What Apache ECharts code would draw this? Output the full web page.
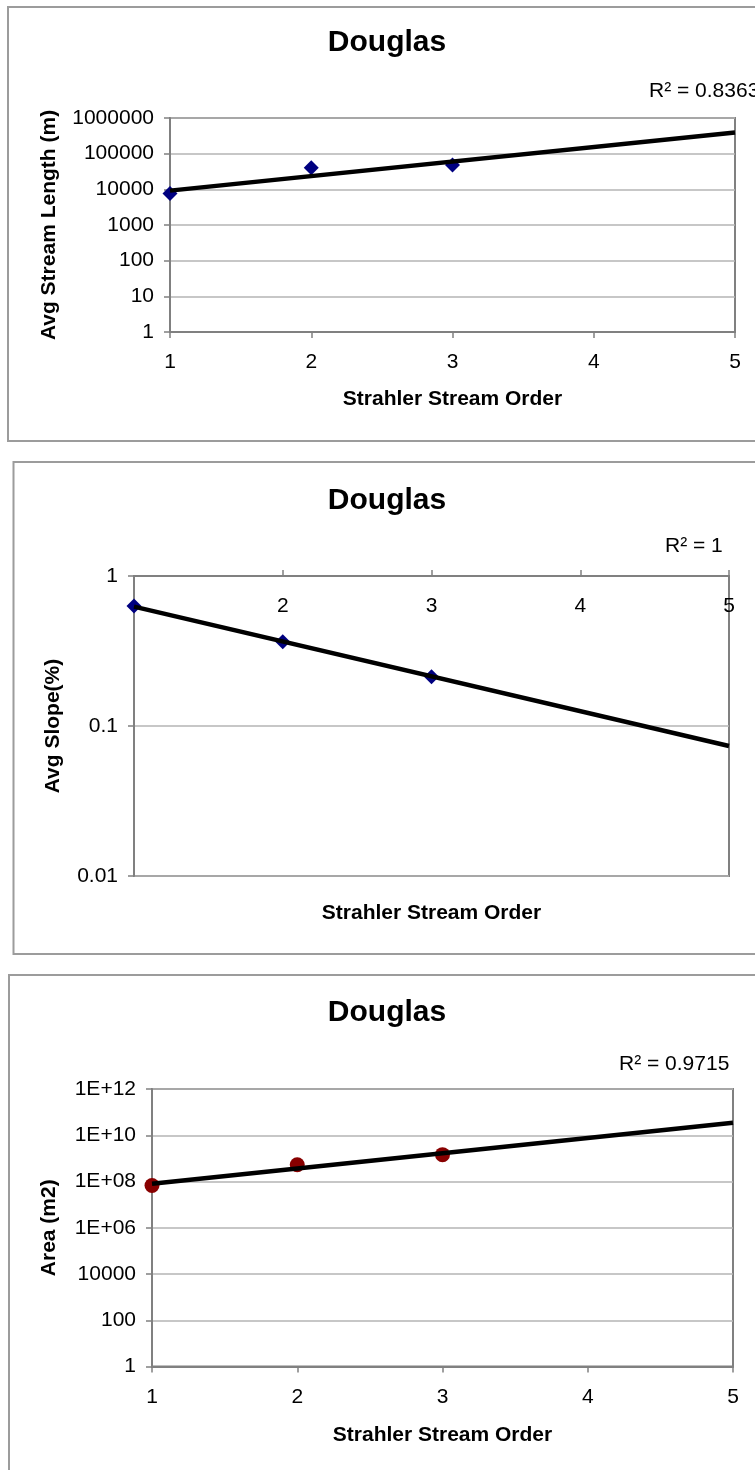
<!DOCTYPE html>
<html>
<head>
<meta charset="utf-8">
<script src="https://cdn.jsdelivr.net/npm/echarts@6/dist/echarts.min.js"></script>
<style>
  html, body { margin: 0; padding: 0; background: #fff; }
  #chart { width: 755px; height: 1470px; }
</style>
</head>
<body>
<div id="chart"></div>
<script>
// ---- text ----
const panelTitle = 'Douglas';
const xAxisTitle = 'Strahler Stream Order';
const yAxisTitles = ['Avg Stream Length (m)', 'Avg Slope(%)', 'Area (m2)'];
const r2Labels = ['R\u00B2 = 0.8363', 'R\u00B2 = 1', 'R\u00B2 = 0.9715'];

// ---- observed values per Strahler order ----
const streamOrder = [1, 2, 3];
const avgStreamLength = [7700, 40000, 48000];
const avgSlope = [0.63, 0.365, 0.213];
const basinArea = [6.7e7, 5.3e8, 1.45e9];

// ---- exponential trendlines (straight on log axes), end values ----
const trendOrder = [1, 5];
const lengthTrend = [9200, 390000];
const slopeTrend = [0.625, 0.0735];
const areaTrend = [8.0e7, 3.5e10];

// ---- tick labels ----
const orderTicks = ['1', '2', '3', '4', '5'];
const lengthTicks = ['1', '10', '100', '1000', '10000', '100000', '1000000'];
const slopeTicks = ['0.01', '0.1', '1'];
const areaTicks = ['1', '100', '10000', '1E+06', '1E+08', '1E+10', '1E+12'];

const FONT = "'Liberation Sans', Arial, Helvetica, sans-serif";
const FRAME = '#808080';
const GRIDLINE = '#b4b4b4';
const PANEL_EDGE = '#9c9c9c';

const zip = (xs, ys) => xs.map((x, i) => [x, ys[i]]);
const exp10 = v => Math.round(Math.log10(v));

const grids = [
  { left: 170, top: 118, width: 565, height: 214 },
  { left: 134, top: 576, width: 595, height: 300 },
  { left: 152, top: 1089, width: 581, height: 277.5 }
].map(g => Object.assign({
  show: true, borderColor: FRAME, borderWidth: 2, backgroundColor: 'transparent',
  containLabel: false, outerBoundsMode: 'none'
}, g));

function orderAxis(gridIndex, extra) {
  return Object.assign({
    type: 'value', gridIndex, min: 1, max: 5, interval: 1,
    axisLine: { show: true, onZero: false, lineStyle: { color: FRAME, width: 2 } },
    axisTick: { show: true, length: 6, lineStyle: { color: FRAME, width: 1.5 } },
    splitLine: { show: false },
    axisLabel: {
      fontSize: 21, fontFamily: FONT, color: '#000', margin: 20,
      formatter: v => orderTicks[v - 1]
    }
  }, extra);
}

function logAxis(gridIndex, base, min, max, labels, toIndex, name, gap) {
  return {
    type: 'log', gridIndex, logBase: base, min, max,
    axisLine: { show: true, lineStyle: { color: FRAME, width: 2 } },
    axisTick: { show: true, length: 6, lineStyle: { color: FRAME, width: 1.5 } },
    splitLine: { show: true, lineStyle: { color: GRIDLINE, width: 1.5 } },
    axisLabel: {
      fontSize: 21, fontFamily: FONT, color: '#000', margin: 16,
      formatter: v => labels[toIndex(v)]
    },
    name, nameLocation: 'middle', nameRotate: 90, nameGap: gap,
    nameTextStyle: { fontSize: 21, fontWeight: 'bold', fontFamily: FONT, color: '#000' }
  };
}

const xAxes = [
  orderAxis(0, {
    name: xAxisTitle, nameLocation: 'middle', nameGap: 57,
    nameTextStyle: { fontSize: 21, fontWeight: 'bold', fontFamily: FONT, color: '#000' }
  }),
  orderAxis(1, {
    position: 'top',
    axisLabel: {
      fontSize: 21, fontFamily: FONT, color: '#000', margin: 20, inside: true,
      showMinLabel: false, formatter: v => orderTicks[v - 1]
    }
  }),
  orderAxis(2, {
    name: xAxisTitle, nameLocation: 'middle', nameGap: 58,
    nameTextStyle: { fontSize: 21, fontWeight: 'bold', fontFamily: FONT, color: '#000' }
  })
];

const yAxes = [
  logAxis(0, 10, 1, 1e6, lengthTicks, v => exp10(v), yAxisTitles[0], 110),
  logAxis(1, 10, 0.01, 1, slopeTicks, v => exp10(v) + 2, yAxisTitles[1], 70),
  logAxis(2, 100, 1, 1e12, areaTicks, v => Math.round(exp10(v) / 2), yAxisTitles[2], 92)
];

function points(i, ys, symbol, size, color) {
  return {
    type: 'scatter', xAxisIndex: i, yAxisIndex: i, data: zip(streamOrder, ys),
    symbol, symbolSize: size, itemStyle: { color, opacity: 1 }, clip: false, z: 2, silent: true
  };
}
function trend(i, ys) {
  return {
    type: 'line', xAxisIndex: i, yAxisIndex: i, data: zip(trendOrder, ys),
    symbol: 'none', lineStyle: { color: '#000', width: 4.5 }, z: 3, silent: true
  };
}

const series = [
  points(0, avgStreamLength, 'diamond', [15, 15], '#000080'),
  trend(0, lengthTrend),
  points(1, avgSlope, 'diamond', [15, 15], '#000080'),
  trend(1, slopeTrend),
  points(2, basinArea, 'circle', 15, '#880000'),
  trend(2, areaTrend)
];

function text(x, y, str, size, weight, align) {
  return {
    type: 'text', x, y, silent: true,
    style: {
      text: str, fontSize: size, fontWeight: weight, fontFamily: FONT, fill: '#000',
      textAlign: align, align: align, textVerticalAlign: 'middle', verticalAlign: 'middle'
    }
  };
}
function panel(x, y, w, h) {
  return {
    type: 'rect', silent: true, z: -10,
    shape: { x, y, width: w, height: h },
    style: { fill: 'none', stroke: PANEL_EDGE, lineWidth: 2 }
  };
}

const graphic = [
  panel(8, 7, 780, 434),
  panel(13.5, 462, 780, 492),
  panel(9, 975, 780, 520),
  text(387, 43, panelTitle, 30, 'bold', 'center'),
  text(387, 501, panelTitle, 30, 'bold', 'center'),
  text(387, 1013, panelTitle, 30, 'bold', 'center'),
  text(649, 91, r2Labels[0], 21, 'normal', 'left'),
  text(665, 546, r2Labels[1], 21, 'normal', 'left'),
  text(619, 1064, r2Labels[2], 21, 'normal', 'left'),
  text(431.5, 913.5, xAxisTitle, 21, 'bold', 'center')
];

const chart = echarts.init(document.getElementById('chart'), null, { renderer: 'canvas' });
chart.setOption({
  animation: false,
  backgroundColor: '#fff',
  textStyle: { fontFamily: FONT },
  grid: grids,
  xAxis: xAxes,
  yAxis: yAxes,
  series,
  graphic
});
</script>
</body>
</html>
